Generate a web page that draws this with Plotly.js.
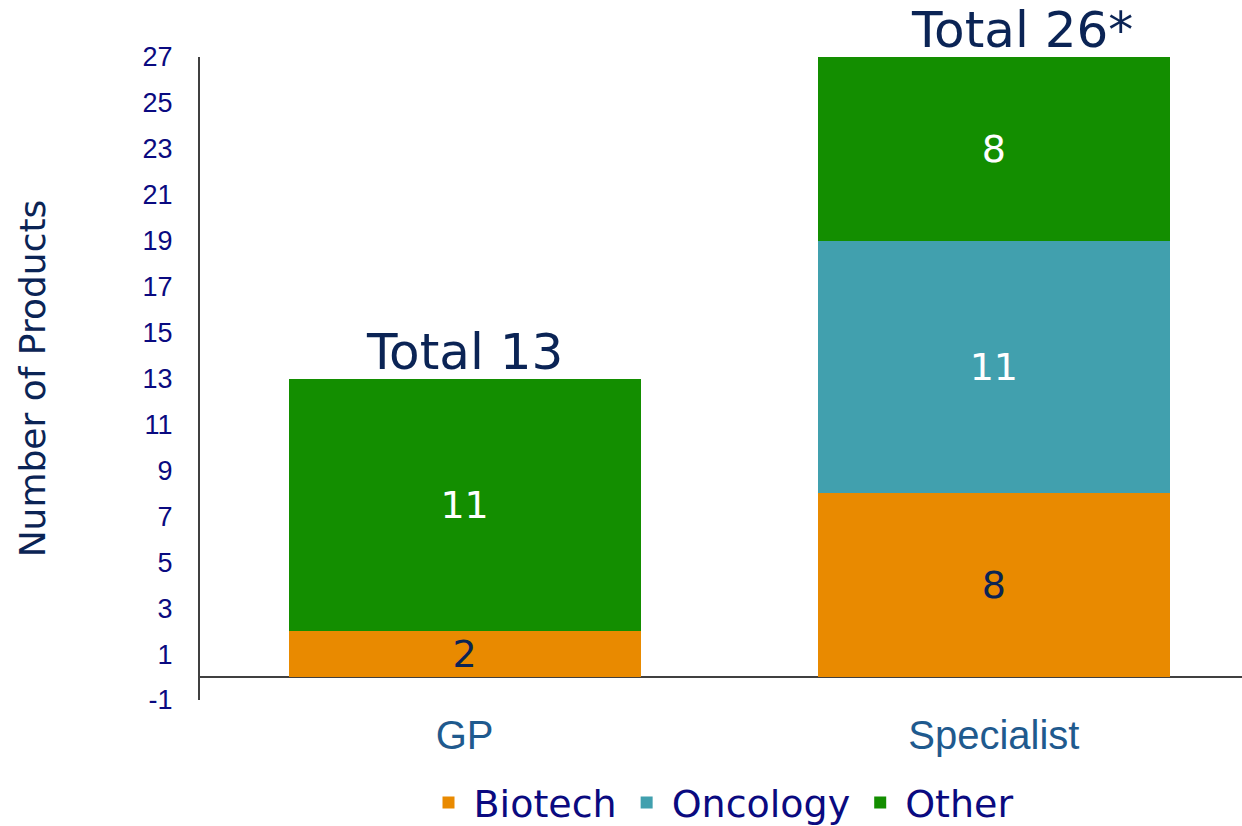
<!DOCTYPE html>
<html>
<head>
<meta charset="utf-8">
<script src="https://cdn.plot.ly/plotly-3.0.1.min.js"></script>
<style>html,body{margin:0;padding:0;background:#fff}#chart{width:1242px;height:826px}</style>
</head>
<body>
<div id="chart"></div>
<script>
const categories = ["GP", "Specialist"];
const biotech = [2, 8];
const oncology = [null, 11];
const other = [11, 8];
const totalLabels = ["Total 13", "Total 26*"];
const totalTops = [13, 27];
const yTicks = [-1, 1, 3, 5, 7, 9, 11, 13, 15, 17, 19, 21, 23, 25, 27];

const navy = "#0B2455";
const main = "DejaVu Sans, Verdana, sans-serif";

function barTrace(name, vals, color, txtColor) {
  return {
    type: "bar", name: name, x: categories, y: vals,
    marker: {color: color, line: {width: 0}},
    text: vals.map(v => v == null ? "" : String(v)),
    texttemplate: "%{text}",
    textposition: "inside", insidetextanchor: "middle", textangle: 0,
    constraintext: "none",
    textfont: {family: main, size: 38, color: txtColor},
    hoverinfo: "x+y+name"
  };
}

const data = [
  barTrace("Biotech", biotech, "#E98A00", navy),
  barTrace("Oncology", oncology, "#41A0AE", "#FFFFFF"),
  barTrace("Other", other, "#138E00", "#FFFFFF")
];

const annotations = categories.map((c, i) => ({
  x: c, y: totalTops[i], xref: "x", yref: "y",
  text: totalLabels[i], showarrow: false,
  xanchor: "center", yanchor: "bottom", yshift: -4, xshift: i === 1 ? 28 : 0,
  font: {family: main, size: 50, color: navy}
}));

const layout = {
  width: 1242, height: 826,
  margin: {l: 200, r: 0, t: 57, b: 126, pad: 0, autoexpand: false},
  paper_bgcolor: "#fff", plot_bgcolor: "#fff",
  barmode: "stack", bargap: 0.335,
  showlegend: true,
  legend: {orientation: "h", x: 0.5, xanchor: "center", y: -0.16, yanchor: "middle",
           font: {family: main, size: 38, color: "#0A0A80"}, traceorder: "normal",
           itemwidth: 40, bgcolor: "rgba(0,0,0,0)"},
  xaxis: {
    type: "category", range: [-0.5, 1.469], fixedrange: true,
    showline: false, showgrid: false, zeroline: false, ticks: "",
    tickfont: {family: "Liberation Sans, Arial, sans-serif", size: 40, color: "#1F5A8E"},
    ticklabelstandoff: 8
  },
  yaxis: {
    range: [-1, 27], tickvals: yTicks, ticktext: yTicks.map(String),
    showline: true, linecolor: "#404040", linewidth: 2,
    showgrid: false, zeroline: true, zerolinecolor: "#404040", zerolinewidth: 2,
    ticks: "", ticklabelstandoff: 20,
    tickfont: {family: "Liberation Sans, Arial, sans-serif", size: 27, color: "#0A0A80"},
    title: {text: "Number of Products", font: {family: main, size: 36, color: navy}, standoff: 86},
    automargin: false
  },
  annotations: annotations,
  font: {family: main}
};

Plotly.newPlot("chart", data, layout, {displayModeBar: false, staticPlot: true});
</script>
</body>
</html>
